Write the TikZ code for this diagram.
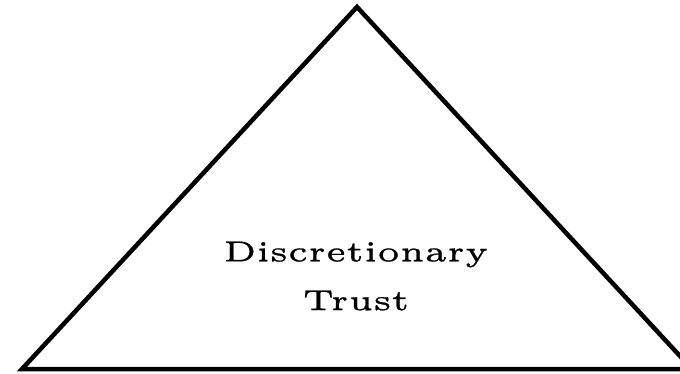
\documentclass[tikz,border=0pt]{standalone}
\usepackage{fontspec}
\usepackage{tikz}
\usetikzlibrary{positioning,calc}

\newfontfamily\trustfont{lmroman5-regular.otf}[FakeBold=0.8]

\tikzset{
  trustlabel/.style={align=center, xscale=6.6, yscale=5.8, font=\trustfont\fontsize{5}{8.4}\selectfont},
}

\begin{document}
\begin{tikzpicture}[x=1pt, y=-1pt]
    % Frame
    \useasboundingbox (0,0) rectangle (680,374);
    \clip (0,0) rectangle (680,374);

    % Corners
    \coordinate (top) at (357,7);
    \coordinate (left) at (22,369);
    \coordinate (right) at (692,369);

    % Triangle
    \draw[line width=4.5pt, line join=miter] (top) -- (right) -- (left) -- cycle;

    % Label
    \node[trustlabel] (trust) at (356,276) {Discretionary\\Trust};
\end{tikzpicture}
\end{document}
